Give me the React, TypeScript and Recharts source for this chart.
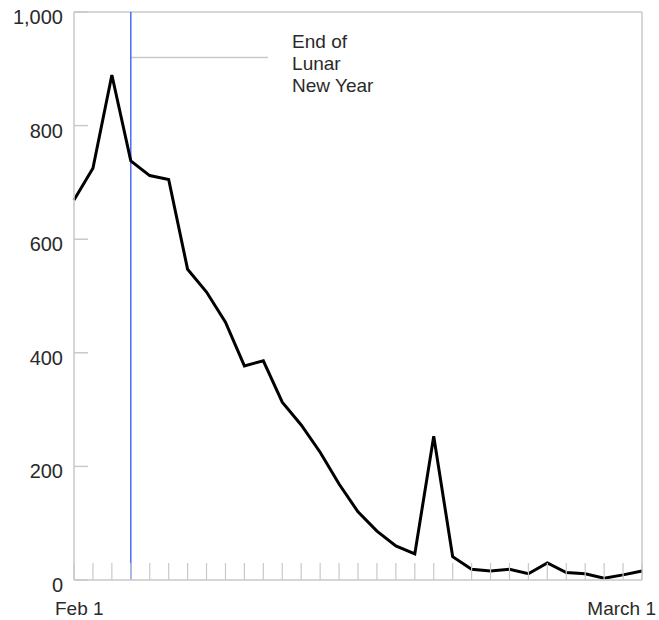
import React from 'react';
import { LineChart, Line, XAxis, YAxis, ReferenceLine, ReferenceDot } from 'recharts';

const days = [0, 1, 2, 3, 4, 5, 6, 7, 8, 9, 10, 11, 12, 13, 14, 15, 16, 17, 18, 19, 20, 21, 22, 23, 24, 25, 26, 27, 28, 29, 30];
const cases = [669, 725, 889, 738, 712, 705, 547, 507, 454, 377, 386, 313, 273, 225, 169, 120, 86, 60, 46, 253, 41, 19, 16, 19, 11, 30, 13, 11, 3, 9, 16];
const xTickLabels: Record<number, string> = { 0: 'Feb 1', 30: 'March 1' };
const yTicks = [0, 200, 400, 600, 800, 1000];
const lunarNewYearEndDay = 3;
const annotationLevel = 920;
const annotationEndDay = 10.25;
const annotationText = ['End of', 'Lunar', 'New Year'];

const data = days.map((d, i) => ({ day: d, value: cases[i] }));

const FONT = '"Liberation Sans", Arial, Helvetica, sans-serif';
const GRAY = '#c9c9c9';
const TEXT = '#2a2a2a';

const XTick = (props: any) => {
  const { x, y, payload } = props;
  const label = xTickLabels[payload.value];
  const last = payload.value === days[days.length - 1];
  return (
    <g>
      <line x1={x} y1={y} x2={x} y2={y - 17} stroke={GRAY} strokeWidth={1.2} />
      {label ? (
        <text
          x={last ? x + 14 : x - 19}
          y={y + 35}
          textAnchor={last ? 'end' : 'start'}
          fontSize={19}
          fontFamily={FONT}
          fill={TEXT}
        >
          {label}
        </text>
      ) : null}
    </g>
  );
};

const YTick = (props: any) => {
  const { x, y, payload } = props;
  return (
    <g>
      <line x1={x} y1={y} x2={x + 14} y2={y} stroke={GRAY} strokeWidth={1.5} />
      <text x={x - 11} y={y + 12} textAnchor="end" fontSize={20} fontFamily={FONT} fill={TEXT}>
        {Number(payload.value).toLocaleString('en-US')}
      </text>
    </g>
  );
};

const AnnotationShape = (p: any) => {
  const tx = p.cx + 24;
  return (
    <text x={tx} y={p.cy - 9} fontSize={19} fontFamily={FONT} fill={TEXT}>
      {annotationText.map((t, i) => (
        <tspan key={i} x={tx} dy={i === 0 ? 0 : 22}>
          {t}
        </tspan>
      ))}
    </text>
  );
};

export default function App() {
  return (
    <div style={{ position: 'absolute', left: 0, top: 0, background: '#fff' }}>
      <LineChart width={659} height={620} data={data} margin={{ top: 12, right: 17, bottom: 10, left: 14 }}>
        <XAxis
          dataKey="day"
          type="number"
          domain={[0, 30]}
          ticks={days}
          interval={0}
          tickLine={false}
          tickSize={0}
          tickMargin={0}
          height={30}
          axisLine={{ stroke: GRAY, strokeWidth: 1.5 }}
          tick={<XTick />}
        />
        <YAxis
          type="number"
          domain={[0, 1000]}
          ticks={yTicks}
          interval={0}
          width={60}
          tickLine={false}
          tickSize={0}
          tickMargin={0}
          axisLine={{ stroke: GRAY, strokeWidth: 1.5 }}
          tick={<YTick />}
        />
        <ReferenceLine y={1000} stroke={GRAY} strokeWidth={1.5} />
        <ReferenceLine x={30} stroke={GRAY} strokeWidth={1.5} />
        <ReferenceLine
          segment={[
            { x: lunarNewYearEndDay, y: annotationLevel },
            { x: annotationEndDay, y: annotationLevel },
          ]}
          stroke={GRAY}
          strokeWidth={1.5}
        />
        <ReferenceLine x={lunarNewYearEndDay} stroke="#4a6cf2" strokeWidth={1.5} />
        <ReferenceDot x={annotationEndDay} y={annotationLevel} r={0} shape={AnnotationShape} />
        <Line
          type="linear"
          dataKey="value"
          stroke="#000"
          strokeWidth={3}
          dot={false}
          activeDot={false}
          isAnimationActive={false}
        />
      </LineChart>
    </div>
  );
}
